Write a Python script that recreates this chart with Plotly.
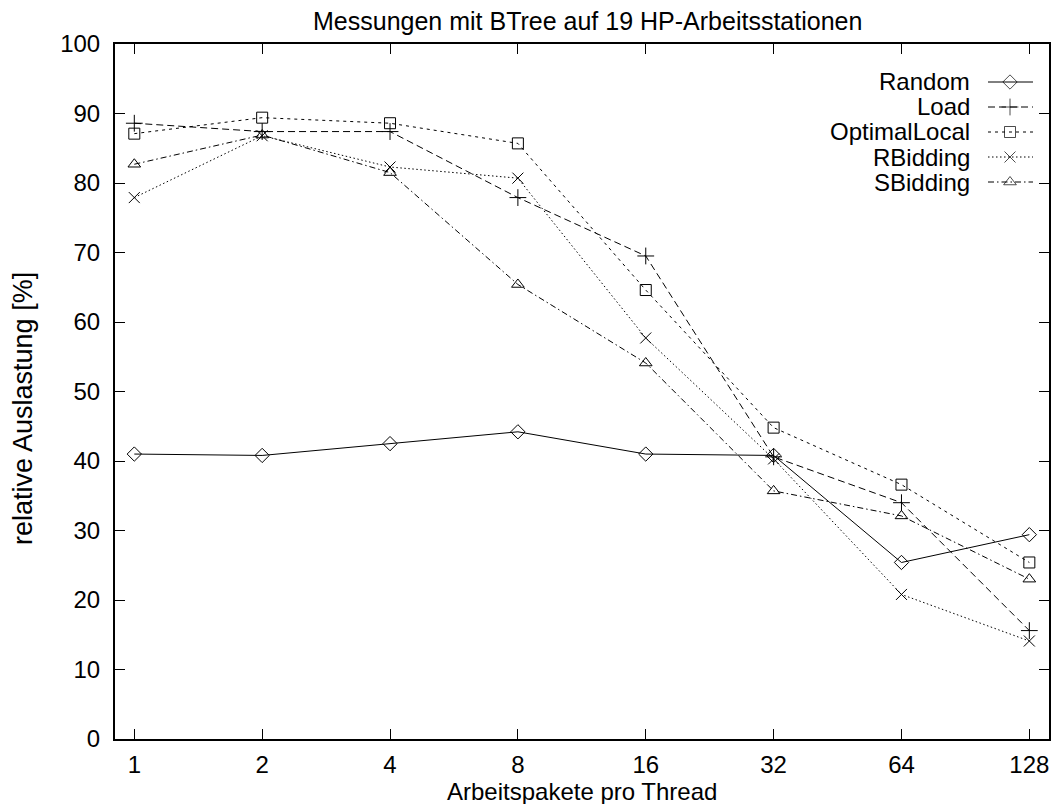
import math
import plotly.graph_objects as go

# ---------------- data ----------------
threads = [1, 2, 4, 8, 16, 32, 64, 128]
tick_labels = ["1", "2", "4", "8", "16", "32", "64", "128"]
y_ticks = [0, 10, 20, 30, 40, 50, 60, 70, 80, 90, 100]

series_names = ["Random", "Load", "OptimalLocal", "RBidding", "SBidding"]
random_vals = [41.0, 40.8, 42.5, 44.2, 41.0, 40.8, 25.4, 29.4]
load_vals = [88.6, 87.4, 87.4, 77.9, 69.5, 40.6, 34.0, 15.6]
optimallocal_vals = [87.1, 89.4, 88.6, 85.7, 64.6, 44.8, 36.6, 25.4]
rbidding_vals = [77.9, 86.8, 82.3, 80.7, 57.7, 40.3, 20.8, 14.1]
sbidding_vals = [82.7, 86.9, 81.5, 65.4, 54.1, 35.7, 32.1, 23.0]

title_text = "Messungen mit BTree auf 19 HP-Arbeitsstationen"
x_title = "Arbeitspakete pro Thread"
y_title = "relative Auslastung [%]"

# ---------------- styles ----------------
FONT = "Liberation Sans, Arial, Helvetica, sans-serif"
styles = {
    "Random": dict(dash="solid", symbol="diamond-open", size=11),
    "Load": dict(dash="7px,4px", symbol="cross-thin-open", size=12),
    "OptimalLocal": dict(dash="3px,4px", symbol="square-open", size=11),
    "RBidding": dict(dash="1.5px,2.5px", symbol="x-thin-open", size=11),
    "SBidding": dict(dash="6px,3px,1.5px,3px", symbol="triangle-up-open", size=11),
}
values = [random_vals, load_vals, optimallocal_vals, rbidding_vals, sbidding_vals]

# page-pixel layout constants
W, H = 1057, 804
L, R, T, B = 115, 8, 44, 65
PW, PH = W - L - R, H - T - B


def px(x):
    # page pixel -> paper (plot-area) fraction
    return (x - L) / PW


def py(y):
    return (H - B - y) / PH


fig = go.Figure()

for name, vals in zip(series_names, values):
    st = styles[name]
    fig.add_trace(go.Scatter(
        x=threads, y=vals, mode="lines+markers", name=name,
        line=dict(color="black", width=1, dash=st["dash"]),
        marker=dict(symbol=st["symbol"], size=st["size"], color="black",
                    line=dict(color="black", width=1)),
        showlegend=False, cliponaxis=False,
    ))

# ---------------- custom legend (text left, sample right) ----------------
leg_text_right = 972
leg_line_x = [988, 1010, 1033]
leg_row_y0 = 82
leg_row_dy = 25
for i, name in enumerate(series_names):
    st = styles[name]
    ry = leg_row_y0 + i * leg_row_dy
    fig.add_trace(go.Scatter(
        x=leg_line_x, y=[ry] * 3, mode="lines+markers",
        xaxis="x2", yaxis="y2",
        line=dict(color="black", width=1, dash=st["dash"]),
        marker=dict(symbol=st["symbol"], size=[0, st["size"], 0], color="black",
                    line=dict(color="black", width=1)),
        showlegend=False, hoverinfo="skip",
    ))
    fig.add_annotation(x=px(leg_text_right), y=py(ry), xref="paper", yref="paper",
                       text=name, showarrow=False, xanchor="right", yanchor="middle",
                       font=dict(family=FONT, size=24, color="black"))

# titles
fig.add_annotation(x=px(587), y=py(21), xref="paper", yref="paper", text=title_text,
                   showarrow=False, xanchor="center", yanchor="middle",
                   font=dict(family=FONT, size=25, color="black"))
fig.add_annotation(x=px(582), y=py(791), xref="paper", yref="paper", text=x_title,
                   showarrow=False, xanchor="center", yanchor="middle",
                   font=dict(family=FONT, size=24, color="black"))
fig.add_annotation(x=px(23), y=py(409), xref="paper", yref="paper", text=y_title,
                   textangle=-90, showarrow=False, xanchor="center", yanchor="middle",
                   font=dict(family=FONT, size=27, color="black"))

axis_common = dict(
    showgrid=False, zeroline=False, showline=True, linecolor="black", linewidth=2,
    mirror="ticks", ticks="inside", ticklen=10, tickwidth=1.2, tickcolor="black",
    tickfont=dict(family=FONT, size=24, color="black"),
)
fig.update_layout(
    width=W, height=H,
    margin=dict(l=L, r=R, t=T, b=B, pad=0, autoexpand=False),
    paper_bgcolor="white", plot_bgcolor="white",
    xaxis=dict(type="log", range=[math.log10(0.9006), math.log10(142.4)],
               tickvals=threads, ticktext=tick_labels, ticklabelstandoff=3,
               automargin=False, **axis_common),
    yaxis=dict(range=[0, 100], tickvals=y_ticks, ticklabelstandoff=8,
               automargin=False, **axis_common),
    xaxis2=dict(overlaying="x", range=[L, W - R], visible=False, anchor="y2"),
    yaxis2=dict(overlaying="y", range=[H - B, T], visible=False, anchor="x2"),
    showlegend=False,
)

fig.write_html("out.html", config={"displayModeBar": False},
               post_script="document.body.style.margin='0';")
